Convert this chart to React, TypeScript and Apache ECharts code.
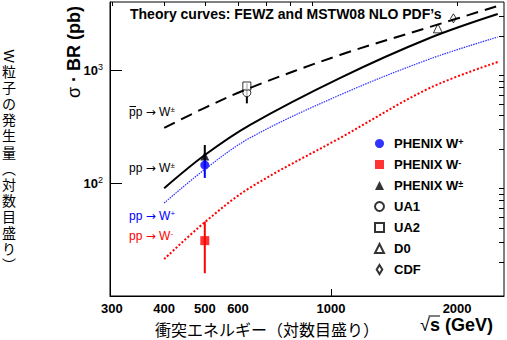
import React, { useEffect, useRef } from 'react';
import * as echarts from 'echarts';

const FONT = '"Liberation Sans", Arial, Helvetica, sans-serif';
const JP = '"Liberation Sans", "Noto Sans CJK JP", "Noto Sans CJK SC", sans-serif';

// theory curves (sqrt(s) in GeV, sigma*BR in pb)
const energies = [400, 500, 640, 1050, 1720, 2500];
const ppbarWpm = [307, 463, 693, 1358, 2401, 3685];
const ppWpm = [90, 177, 326, 849, 1920, 3130];
const ppWplus = [66.5, 132, 250, 601, 1251, 1960];
const ppWminus = [21.2, 45, 90.5, 250, 693, 1177];

// measurements: [sqrt(s), value, low, high]
const phenixWplus = [[500, 144, 111, 180]];
const phenixWminus = [[500, 30.9, 15.9, 45.5]];
const phenixWpm = [[500, 173, 140, 217]];
const ua1 = [[630, 630, 507, 760]];
const ua2 = [[630, 722, 695, 752]];
const d0 = [[1800, 2337]];
const cdf = [[1960, 2867]];

// ticks
const xMajorTicks = [1000];
const xMinorTicks = [300, 400, 500, 600, 700, 800, 900, 2000];
const xTickLabels = [300, 400, 500, 600, 1000, 2000];
const yMajorTicks = [100, 1000];
const yMinorTicks = [20, 30, 40, 50, 60, 70, 80, 90, 200, 300, 400, 500, 600, 700, 800, 900, 2000, 3000];
const yTickLabels = [100, 1000];

const legendNames = ['PHENIX W+', 'PHENIX W-', 'PHENIX W±', 'UA1', 'UA2', 'D0', 'CDF'];

const yTitleJP = ['粒', '子', 'の', '発', '生', '量', '︵', '対', '数', '目', '盛', 'り', '︶'];

const X_MIN = 297, X_MAX = 2588, Y_MIN = 10, Y_MAX = 4000;

const DIAMOND = 'path://M0,4M8,4M4,0L6.5,4L4,8L1.5,4Z';

function errorBar(name: string, data: number[][], color: string, width: number) {
  return {
    type: 'custom',
    name: name + ' err',
    xAxisIndex: 0,
    yAxisIndex: 0,
    silent: true,
    encode: { x: 0, y: 1 },
    data,
    renderItem: (_p: any, api: any) => {
      const x = api.value(0);
      const a = api.coord([x, api.value(2)]);
      const b = api.coord([x, api.value(3)]);
      return {
        type: 'line',
        shape: { x1: a[0], y1: a[1], x2: b[0], y2: b[1] },
        style: { stroke: color, lineWidth: width },
      };
    },
  };
}

function curve(ys: number[], color: string, width: number, type: any) {
  return {
    type: 'line',
    xAxisIndex: 0,
    yAxisIndex: 0,
    data: energies.map((e, i) => [e, ys[i]]),
    showSymbol: false,
    symbol: 'none',
    smooth: 0.35,
    silent: true,
    lineStyle: { color, width, type },
  };
}

function marker(name: string, data: number[][], symbol: string, size: any, fill: string, border?: string) {
  return {
    type: 'scatter',
    name,
    xAxisIndex: 0,
    yAxisIndex: 0,
    data: data.map((d) => [d[0], d[1]]),
    symbol,
    symbolSize: size,
    itemStyle: border
      ? { color: fill, borderColor: border, borderWidth: 1 }
      : { color: fill },
  };
}

function processLabel(y: number, sup: string, color: string) {
  return {
    type: 'text', x: 129, y,
    style: {
      text: '{t|pp }{a|→}{t| W}{s|' + sup + '}', align: 'left', verticalAlign: 'middle',
      rich: {
        t: { fontSize: 12, fontFamily: FONT, fill: color, lineHeight: 14 },
        a: { fontSize: 12, fontFamily: '"DejaVu Sans", sans-serif', fill: color, lineHeight: 14 },
        s: { fontSize: 8, fontFamily: FONT, fill: color, verticalAlign: 'top', lineHeight: 8 },
      },
    },
  };
}

const sup = { fontSize: 9, fontWeight: 'bold', fontFamily: FONT, verticalAlign: 'top', lineHeight: 9, color: '#000' };

export default function App() {
  const ref = useRef<HTMLDivElement>(null);
  useEffect(() => {
    if (!ref.current) return;
    const chart = echarts.init(ref.current, undefined, { renderer: 'svg' });
    const axisCommon = {
      type: 'log',
      logBase: 10,
      splitLine: { show: false },
    };
    const jpChars = yTitleJP.map((c, i) => ({
      type: 'text', x: 9, y: 72 + i * 16.1,
      style: { text: c, fontFamily: JP, fontSize: 14, lineHeight: 15, fill: '#000', align: 'center', verticalAlign: 'middle' },
    }));
    const option: any = {
      animation: false,
      backgroundColor: '#fff',
      grid: {
        left: 110, right: 3, top: 2, bottom: 44,
        show: true, borderColor: '#000', borderWidth: 1, backgroundColor: 'transparent',
      },
      xAxis: [
        {
          ...axisCommon,
          min: X_MIN, max: X_MAX,
          axisLine: { show: true, lineStyle: { color: '#000', width: 1 } },
          axisTick: { show: true, inside: true, length: 7, customValues: xMajorTicks, lineStyle: { color: '#000' } },
          axisLabel: {
            show: true, customValues: xTickLabels, margin: 6,
            fontFamily: FONT, fontWeight: 'bold', fontSize: 13, color: '#000', lineHeight: 13,
            formatter: (v: number) => String(Math.round(v)),
          },
        },
        {
          ...axisCommon,
          min: X_MIN, max: X_MAX,
          axisLine: { show: false },
          axisTick: { show: true, inside: true, length: 4, customValues: xMinorTicks, lineStyle: { color: '#000' } },
          axisLabel: { show: false },
        },
      ],
      yAxis: [
        {
          ...axisCommon,
          min: Y_MIN, max: Y_MAX,
          axisLine: { show: true, lineStyle: { color: '#000', width: 1 } },
          axisTick: { show: true, inside: true, length: 12, customValues: yMajorTicks, lineStyle: { color: '#000' } },
          axisLabel: {
            show: true, customValues: yTickLabels, margin: 7,
            formatter: (v: number) => '{b|10}{s|' + Math.round(Math.log10(v)) + '}',
            rich: {
              b: { fontSize: 13, fontWeight: 'bold', fontFamily: FONT, color: '#000', lineHeight: 16 },
              s: { fontSize: 9, fontFamily: FONT, color: '#000', verticalAlign: 'top', lineHeight: 9 },
            },
          },
        },
        {
          ...axisCommon,
          min: Y_MIN, max: Y_MAX,
          axisLine: { show: false },
          axisTick: { show: true, inside: true, length: 5, customValues: yMinorTicks, lineStyle: { color: '#000' } },
          axisLabel: { show: false },
        },
      ],
      legend: {
        orient: 'vertical',
        left: 369,
        top: 132,
        itemWidth: 9,
        itemHeight: 9,
        itemGap: 8,
        data: legendNames,
        selectedMode: false,
        formatter: (name: string) =>
          name.indexOf('PHENIX W') === 0
            ? '{n|PHENIX W}{s|' + name.slice(8) + '}'
            : '{n|' + name + '}',
        textStyle: {
          color: '#000',
          rich: {
            n: { fontSize: 13, fontWeight: 'bold', fontFamily: FONT, color: '#000', lineHeight: 12, padding: [0, 0, 0, 5] },
            s: sup,
          },
        },
      },
      series: [
        curve(ppbarWpm, '#000', 2, [12, 7]),
        curve(ppWpm, '#000', 2, 'solid'),
        curve(ppWplus, '#2f2fff', 1.2, [1.5, 1]),
        curve(ppWminus, '#ff0000', 2, [2, 2]),
        errorBar('PHENIX W±', phenixWpm, '#000', 2),
        marker('PHENIX W±', phenixWpm, 'triangle', 9, '#000'),
        errorBar('PHENIX W+', phenixWplus, '#0000ff', 2),
        marker('PHENIX W+', phenixWplus, 'circle', 9, '#0000ff'),
        errorBar('PHENIX W-', phenixWminus, '#ff0000', 2),
        marker('PHENIX W-', phenixWminus, 'rect', 9, '#ff0000'),
        errorBar('UA1', ua1, '#000', 2),
        marker('UA1', ua1, 'circle', 8, '#fff', '#000'),
        errorBar('UA2', ua2, '#000', 1),
        marker('UA2', ua2, 'rect', 8, '#fff', '#000'),
        marker('D0', d0, 'triangle', 9, '#fff', '#000'),
        marker('CDF', cdf, DIAMOND, 9, '#fff', '#000'),
      ],
      graphic: [
        {
          type: 'text', x: 130, y: 14,
          style: {
            text: 'Theory curves: FEWZ and MSTW08 NLO PDF’s',
            fontFamily: FONT, fontWeight: 'bold', fontSize: 14, fill: '#000',
            align: 'left', verticalAlign: 'middle',
          },
        },
        // process labels
        processLabel(112, '±', '#000'),
        { type: 'line', shape: { x1: 129.5, y1: 106.5, x2: 136, y2: 106.5 }, style: { stroke: '#000', lineWidth: 1 } },
        processLabel(168, '±', '#000'),
        processLabel(216, '+', '#0000ff'),
        processLabel(236, '-', '#ff0000'),
        // y axis title
        {
          type: 'text', x: 74, y: 52, rotation: Math.PI / 2,
          style: {
            text: '{g|σ}{b| · BR (pb)}', align: 'center', verticalAlign: 'middle',
            rich: {
              g: { fontSize: 18, fontFamily: FONT, fill: '#000' },
              b: { fontSize: 18, fontWeight: 'bold', fontFamily: FONT, fill: '#000' },
            },
          },
        },
        // Japanese vertical title
        {
          type: 'text', x: 9, y: 56, rotation: -Math.PI / 2,
          style: { text: 'W', fontFamily: JP, fontSize: 14, lineHeight: 15, fill: '#000', align: 'center', verticalAlign: 'middle' },
        },
        ...jpChars,
        // x axis titles
        {
          type: 'text', x: 155, y: 330,
          style: {
            text: '衝突エネルギー（対数目盛り）',
            fontFamily: JP, fontSize: 16, lineHeight: 16, fill: '#000', align: 'left', verticalAlign: 'middle',
          },
        },
        {
          type: 'text', x: 420, y: 325,
          style: {
            text: '{r|√}{b|s (GeV)}', align: 'left', verticalAlign: 'middle',
            rich: {
              r: { fontSize: 18, fontFamily: FONT, fill: '#000', lineHeight: 17 },
              b: { fontSize: 18, fontWeight: 'bold', fontFamily: FONT, fill: '#000', lineHeight: 17 },
            },
          },
        },
        { type: 'line', shape: { x1: 428.5, y1: 316, x2: 440, y2: 316 }, style: { stroke: '#000', lineWidth: 1 } },
      ],
    };
    chart.setOption(option);
    return () => chart.dispose();
  }, []);
  return <div ref={ref} style={{ position: 'fixed', left: 0, top: 0, width: 507, height: 340 }} />;
}
